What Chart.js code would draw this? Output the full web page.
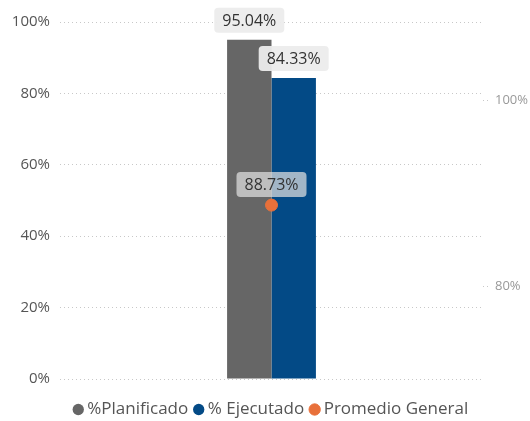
<!DOCTYPE html>
<html>
<head>
<meta charset="utf-8">
<script src="https://cdn.jsdelivr.net/npm/chart.js@4/dist/chart.umd.min.js"></script>
<style>
  html, body { margin: 0; padding: 0; background: #fff; }
  #wrap { width: 530px; height: 421px; }
</style>
</head>
<body>
<div id="wrap"><canvas id="chart"></canvas></div>
<script>
// values
var categories = [''];
var planificado = [95.04];
var ejecutado = [84.33];
var promedio = [88.73];

var FONT = '"Open Sans", "Noto Sans", sans-serif';

// little grey boxes with the value above each mark
var valueBoxes = {
  id: 'valueBoxes',
  afterDatasetsDraw: function (chart) {
    var ctx = chart.ctx;
    ctx.save();
    ctx.font = '16px ' + FONT;
    ctx.textAlign = 'center';
    ctx.textBaseline = 'middle';
    chart.data.datasets.forEach(function (ds, i) {
      var meta = chart.getDatasetMeta(i);
      meta.data.forEach(function (el, j) {
        var txt = ds.data[j].toFixed(2) + '%';
        var w = ctx.measureText(txt).width + 16;
        var h = 25;
        var gap = ds.type === 'line' ? 8 : 7;
        var x = el.x, y = el.y - gap - h;
        ctx.fillStyle = ds.type === 'line' ? 'rgba(225,225,225,0.72)' : 'rgba(236,236,236,0.95)';
        ctx.beginPath();
        ctx.roundRect(x - w / 2, y, w, h, 4);
        ctx.fill();
        ctx.fillStyle = '#333';
        ctx.fillText(txt, x, y + h / 2 + 1);
      });
    });
    ctx.restore();
  }
};

// nudge the legend a bit to the right, like the original
var legendShift = {
  id: 'legendShift',
  afterLayout: function (chart) {
    if (chart.legend) {
      chart.legend.left += 8;
      chart.legend.right += 8;
    }
  }
};

new Chart(document.getElementById('chart'), {
  type: 'bar',
  data: {
    labels: categories,
    datasets: [{
        label: '%Planificado',
        data: planificado,
        yAxisID: 'y',
        backgroundColor: '#666666',
        order: 1
      }, {
        label: '% Ejecutado',
        data: ejecutado,
        yAxisID: 'y',
        backgroundColor: '#034A86',
        order: 1
      }, {
        type: 'line',
        label: 'Promedio General',
        data: promedio,
        yAxisID: 'y1',
        showLine: false,
        pointRadius: 6,
        pointHoverRadius: 6,
        pointBackgroundColor: '#E8703A',
        pointBorderColor: '#E8703A',
        backgroundColor: '#E8703A',
        borderColor: '#E8703A',
        order: 0
      }
    ]
  },
  options: {
    responsive: true,
    maintainAspectRatio: false,
    animation: false,
    layout: { padding: { top: 22, left: 0, right: 0, bottom: -7 } },
    datasets: {
      bar: { categoryPercentage: 0.21, barPercentage: 1 }
    },
    plugins: {
      tooltip: { enabled: false },
      legend: {
        position: 'bottom',
        labels: {
          usePointStyle: true,
          pointStyle: 'circle',
          boxWidth: 1,
          boxHeight: 8,
          padding: 10,
          color: '#555',
          font: { family: FONT, size: 17 },
          sort: function (a, b) { return a.datasetIndex - b.datasetIndex; }
        }
      }
    },
    scales: {
      x: {
        grid: { display: false },
        border: { display: false },
        ticks: { display: false },
        afterFit: function (s) { s.height = 12; }
      },
      y: {
        position: 'left',
        min: 0,
        max: 100,
        ticks: {
          stepSize: 20,
          padding: 10,
          color: '#555',
          font: { family: FONT, size: 15 },
          callback: function (v) { return v + '%'; }
        },
        grid: {
          color: '#c8c8c8',
          drawTicks: false,
          lineWidth: 1
        },
        border: { display: false, dash: [1, 3] },
        afterFit: function (s) { s.width = 60; }
      },
      y1: {
        position: 'right',
        min: 70.05,
        max: 108.4,
        afterBuildTicks: function (s) { s.ticks = [{ value: 80 }, { value: 100 }]; },
        ticks: {
          padding: 4,
          color: '#999',
          font: { family: FONT, size: 13 },
          callback: function (v) { return v + '%'; }
        },
        grid: {
          drawOnChartArea: false,
          drawTicks: true,
          tickLength: 8,
          tickBorderDash: [1, 3],
          color: '#c8c8c8'
        },
        border: { display: false, dash: [1, 3] },
        afterFit: function (s) { s.width = 47; }
      }
    }
  },
  plugins: [valueBoxes, legendShift]
});
</script>
</body>
</html>
